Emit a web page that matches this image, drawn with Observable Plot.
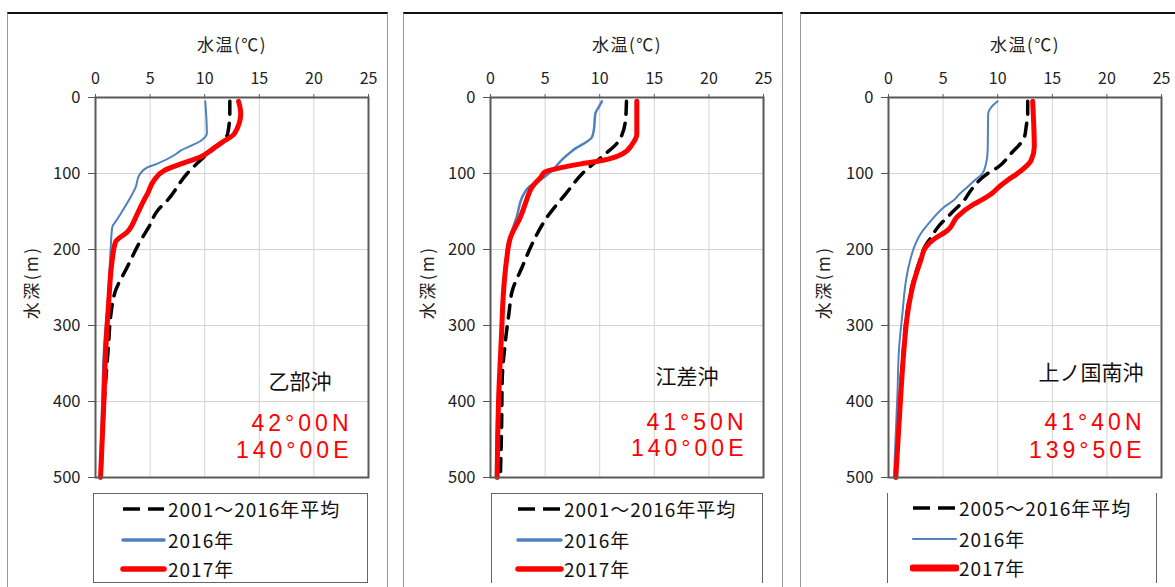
<!DOCTYPE html>
<html><head><meta charset="utf-8">
<script src="https://cdn.jsdelivr.net/npm/d3@7"></script>
<script src="https://cdn.jsdelivr.net/npm/@observablehq/plot@0.6"></script>
<style>
html,body{margin:0;padding:0;background:#fff;}
#root{position:relative;width:1175px;height:587px;overflow:hidden;font-family:"Noto Sans CJK JP",sans-serif;background:#fff;}
.frame{position:absolute;top:12px;height:640px;box-sizing:border-box;border-top:2px solid #111;border-left:1.5px solid #999;border-right:1.5px solid #999;}
.plot{position:absolute;top:0;}
.legend{position:absolute;top:493px;height:90px;box-sizing:border-box;border:1.5px solid #666;}
.ltext{position:absolute;font-size:19px;letter-spacing:1px;color:#111;line-height:30px;white-space:nowrap;}
.lsw{position:absolute;}
</style>
</head><body><div id="root"></div>
<script>
// ---- data ----
const xTicks = [0, 5, 10, 15, 20, 25];
const yTicks = [0, 100, 200, 300, 400, 500];
const stations = ["乙部沖", "江差沖", "上ノ国南沖"];
const latLabels = ["42°00N", "41°50N", "41°40N"];
const lonLabels = ["140°00E", "140°00E", "139°50E"];
const avgLabels = ["2001～2016年平均", "2001～2016年平均", "2005～2016年平均"];
const label2016 = "2016年";
const label2017 = "2017年";
const xTitle = "水温(℃)";
const yTitle = "水深(m)";

// 乙部沖
const otobeAvgDepth = [5, 20, 48, 65, 78, 100, 135, 149, 170, 188, 223, 254, 289, 324, 400, 500];
const otobeAvgTemp  = [12.3, 12.3, 12.1, 11.0, 9.95, 8.4, 6.6, 5.67, 4.9, 4.14, 2.91, 1.84, 1.38, 1.2, 0.8, 0.5];
const otobe16Depth = [5, 47, 57, 70, 76, 87, 92, 103, 118, 135, 160, 171, 201, 267, 329, 400, 500];
const otobe16Temp  = [10.05, 10.2, 9.65, 7.8, 7.2, 5.67, 4.75, 3.98, 3.68, 3.06, 2.0, 1.53, 1.38, 1.13, 0.77, 0.6, 0.4];
const otobe17Depth = [5, 21, 48, 57, 66, 78, 86, 96, 109, 127, 135, 153, 177, 190, 214, 267, 337, 400, 500];
const otobe17Temp  = [13.1, 13.3, 12.7, 11.8, 10.9, 9.65, 8.1, 6.3, 5.36, 4.75, 4.44, 3.83, 2.91, 1.84, 1.53, 1.22, 0.92, 0.77, 0.46];

// 江差沖
const esashiAvgDepth = [5, 30, 57, 78, 96, 127, 157, 193, 223, 254, 285, 320, 372, 430, 500];
const esashiAvgTemp  = [12.45, 12.36, 11.75, 10.2, 8.7, 6.87, 5.2, 3.8, 2.9, 2.0, 1.68, 1.37, 1.07, 1.02, 0.9];
const esashi16Depth = [5, 13, 21, 43, 52, 70, 81, 96, 109, 118, 127, 157, 190, 230, 286, 336, 390, 500];
const esashi16Temp  = [10.2, 9.9, 9.6, 9.46, 9.3, 7.5, 6.6, 5.65, 4.5, 3.5, 3.05, 2.4, 1.65, 1.3, 1.12, 0.9, 0.7, 0.5];
const esashi17Depth = [5, 48, 61, 74, 83, 87, 92, 98, 105, 118, 127, 135, 157, 184, 214, 250, 315, 390, 500];
const esashi17Temp  = [13.4, 13.4, 13.0, 12.1, 10.2, 8.4, 6.6, 5.0, 4.6, 3.8, 3.5, 3.3, 2.75, 1.83, 1.47, 1.22, 1.0, 0.76, 0.61];

// 上ノ国南沖
const kamiAvgDepth = [5, 21, 39, 52, 74, 92, 100, 122, 135, 153, 171, 184, 197, 214, 241, 285, 329, 390, 500];
const kamiAvgTemp  = [12.75, 12.75, 12.6, 12.45, 11.2, 10.0, 9.08, 7.55, 6.94, 5.7, 4.5, 3.9, 3.3, 2.88, 2.28, 1.68, 1.38, 1.08, 0.62];
const kami16Depth = [5, 13, 21, 70, 87, 100, 109, 118, 127, 135, 144, 162, 179, 197, 219, 241, 285, 329, 390, 500];
const kami16Temp  = [10.0, 9.4, 9.13, 9.08, 8.93, 8.6, 7.9, 7.2, 6.5, 6.0, 5.1, 3.9, 2.96, 2.35, 1.9, 1.6, 1.27, 0.97, 0.82, 0.5];
const kami17Depth = [5, 65, 83, 100, 109, 118, 127, 135, 140, 157, 175, 186, 197, 214, 241, 285, 329, 390, 500];
const kami17Temp  = [13.2, 13.35, 13.05, 11.8, 10.9, 10.1, 9.4, 8.5, 7.85, 6.3, 5.4, 4.2, 3.4, 2.96, 2.35, 1.74, 1.43, 1.13, 0.67];

const zip = (d, t) => d.map((v, i) => ({d: v, t: t[i]}));

const panels = [
  {avg: zip(otobeAvgDepth, otobeAvgTemp), s16: zip(otobe16Depth, otobe16Temp), s17: zip(otobe17Depth, otobe17Temp),
   x0: 95, frameL: 7, frameW: 381, blueW: 2, nameDx: -37, nameDy: -95, coordDy: [-54, -27], ylDx: -63,
   leg: {l: 93, w: 275, sw: [29, 70], tx: 74, border: "full", blueW: 3.5, redW: 5.5}},
  {avg: zip(esashiAvgDepth, esashiAvgTemp), s16: zip(esashi16Depth, esashi16Temp), s17: zip(esashi17Depth, esashi17Temp),
   x0: 490, frameL: 403, frameW: 380, blueW: 2.5, nameDx: -45, nameDy: -100, coordDy: [-55, -29], ylDx: -62,
   leg: {l: 491, w: 272, sw: [26, 69], tx: 72, border: "open", blueW: 3.5, redW: 5.5}},
  {avg: zip(kamiAvgDepth, kamiAvgTemp), s16: zip(kami16Depth, kami16Temp), s17: zip(kami17Depth, kami17Temp),
   x0: 887.7, frameL: 800, frameW: 400, blueW: 2, nameDx: -18, nameDy: -104, coordDy: [-55, -27], ylDx: -64,
   leg: {l: 887, w: 270, sw: [25, 68], tx: 71, border: "sides", blueW: 2, redW: 7}}
];

const root = document.getElementById("root");
const FONT = '"Noto Sans CJK JP", sans-serif';
const BLUE = "#4f81bd", RED = "#ff0000";

panels.forEach((p, i) => {
  const fr = document.createElement("div");
  fr.className = "frame";
  fr.style.left = p.frameL + "px";
  fr.style.width = p.frameW + "px";
  root.appendChild(fr);

  const ML = 88, PW = 273;
  const svg = Plot.plot({
    width: ML + PW + 20, height: 487,
    marginLeft: ML, marginRight: 20, marginTop: 97, marginBottom: 10,
    x: {domain: [0, 25]},
    y: {domain: [0, 500], reverse: true},
    style: {fontFamily: FONT, background: "transparent", overflow: "visible", color: "#222"},
    marks: [
      Plot.gridX(xTicks, {stroke: "#d4d4d4", strokeOpacity: 1, strokeWidth: 1}),
      Plot.gridY(yTicks, {stroke: "#d4d4d4", strokeOpacity: 1, strokeWidth: 1}),
      Plot.line(p.avg, {x: "t", y: "d", stroke: "#000", strokeWidth: 3.5, strokeDasharray: "13,9", curve: "monotone-y"}),
      Plot.line(p.s16, {x: "t", y: "d", stroke: BLUE, strokeWidth: p.blueW, curve: "monotone-y", strokeLinejoin: "round"}),
      Plot.line(p.s17, {x: "t", y: "d", stroke: RED, strokeWidth: 5, curve: "monotone-y", strokeLinejoin: "round"}),
      Plot.frame({stroke: "#595959", strokeWidth: 2}),
      Plot.axisX(xTicks, {anchor: "top", tickSize: 4, tickPadding: 10, fontSize: 16, label: null, stroke: "#595959"}),
      Plot.axisY(yTicks, {anchor: "left", tickSize: 7, tickPadding: 8, fontSize: 16.5, label: null, stroke: "#595959"}),
      Plot.text([xTitle], {text: d => d, frameAnchor: "top", dy: -52, fontSize: 17, lineAnchor: "middle", fill: "#222"}),
      Plot.text([yTitle], {text: d => d, frameAnchor: "left", dx: p.ylDx, dy: -5, rotate: -90, fontSize: 17, lineAnchor: "middle", textAnchor: "middle", fill: "#222"}),
      Plot.text([stations[i]], {text: d => d, frameAnchor: "bottom-right", dx: p.nameDx, dy: p.nameDy, fontSize: 21, textAnchor: "end", lineAnchor: "middle", fill: "#111"}),
      Plot.text([latLabels[i]], {text: d => d, frameAnchor: "bottom-right", dx: -16, dy: p.coordDy[0], fontSize: 23, textAnchor: "end", lineAnchor: "middle", fill: RED, fontFamily: "Liberation Sans, Arial, sans-serif"}),
      Plot.text([lonLabels[i]], {text: d => d, frameAnchor: "bottom-right", dx: -16, dy: p.coordDy[1], fontSize: 23, textAnchor: "end", lineAnchor: "middle", fill: RED, fontFamily: "Liberation Sans, Arial, sans-serif"})
    ]
  });
  svg.classList.add("plot");
  svg.style.left = (p.x0 - ML) + "px";
  svg.style.position = "absolute";
  svg.style.top = "0px";
  const texts = d3.select(svg).selectAll("text");
  texts.filter(function () { return /°/.test(this.textContent); }).style("letter-spacing", "4px");
  texts.filter(function () { return /水深/.test(this.textContent); }).style("letter-spacing", "2.5px");
  texts.filter(function () { return /水温/.test(this.textContent); }).style("letter-spacing", "1.5px");
  root.appendChild(svg);

  // legend
  const lg = document.createElement("div");
  lg.className = "legend";
  lg.style.left = p.leg.l + "px";
  lg.style.width = p.leg.w + "px";
  if (p.leg.border === "open") lg.style.borderBottom = "none";
  if (p.leg.border === "sides") { lg.style.borderTop = "none"; lg.style.borderBottom = "none"; }
  root.appendChild(lg);
  const rows = [
    {label: avgLabels[i], stroke: "#000", w: 3.5, dash: "17,8", cap: "butt"},
    {label: label2016, stroke: BLUE, w: p.leg.blueW, dash: null, cap: "round"},
    {label: label2017, stroke: RED, w: p.leg.redW, dash: null, cap: "round"}
  ];
  const rowY = [0, 31, 60];
  rows.forEach((r, k) => {
    const top = rowY[k];
    const sw = d3.create("svg").attr("class", "lsw").attr("width", p.leg.sw[1] - p.leg.sw[0] + 6).attr("height", 30)
      .style("left", (p.leg.sw[0] - 3) + "px").style("top", top + "px");
    sw.append("line").attr("x1", 3).attr("x2", p.leg.sw[1] - p.leg.sw[0] + 3).attr("y1", 15).attr("y2", 15)
      .attr("stroke", r.stroke).attr("stroke-width", r.w).attr("stroke-linecap", r.cap)
      .attr("stroke-dasharray", r.dash);
    lg.appendChild(sw.node());
    const t = document.createElement("div");
    t.className = "ltext";
    t.style.left = p.leg.tx + "px";
    t.style.top = top + "px";
    t.textContent = r.label;
    lg.appendChild(t);
  });
});
</script></body></html>
